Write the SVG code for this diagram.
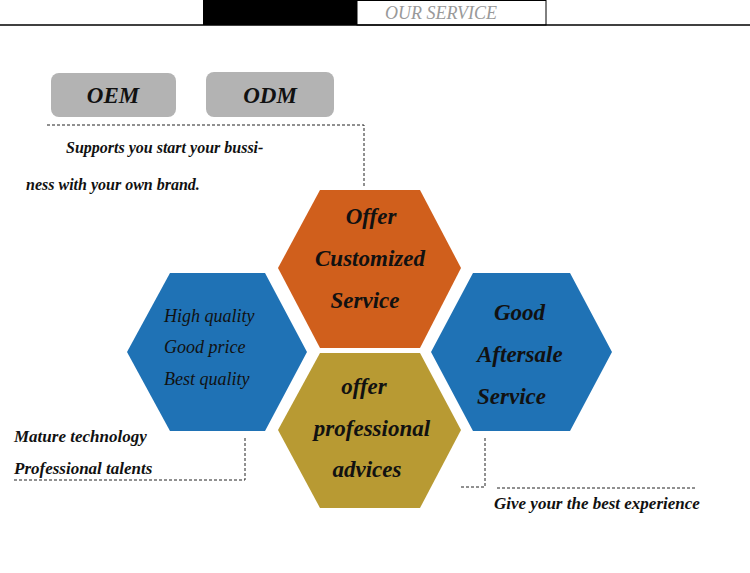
<svg xmlns="http://www.w3.org/2000/svg" width="750" height="573" viewBox="0 0 750 573">
<style>
.t{font-family:"Liberation Serif",serif;font-style:italic;font-weight:bold;fill:#111}
.h{font-family:"Liberation Serif",serif;font-style:italic;fill:#111}
.d{fill:none;stroke:#222;stroke-width:1;stroke-dasharray:3,2}
.btn{fill:#b3b3b3}
</style>
<rect width="750" height="573" fill="#fff"/>
<g id="header">
<rect x="203" y="0" width="154" height="25" fill="#000"/>
<rect x="357" y="0.5" width="189" height="24.5" fill="#fff" stroke="#000"/>
<line x1="0" y1="25" x2="750" y2="25" stroke="#000" stroke-width="1.5"/>
<text x="441" y="19" text-anchor="middle" font-family="Liberation Serif,serif" font-style="italic" font-size="18" fill="#999">OUR SERVICE</text>
</g>
<g id="oem"><rect class="btn" x="51" y="73" width="125" height="44" rx="8"/><text class="t" x="113" y="103" font-size="23" text-anchor="middle">OEM</text></g>
<g id="odm"><rect class="btn" x="206" y="72" width="128" height="45" rx="8"/><text class="t" x="270" y="103" font-size="23" text-anchor="middle">ODM</text></g>
<g id="connectors">
<polyline class="d" points="47,125 364,125 364,187"/>
<polyline class="d" points="14,480 245,480 245,437"/>
<polyline class="d" points="461,487 485,487 485,437"/>
<line class="d" x1="497" y1="488" x2="697" y2="488"/>
</g>
<g id="note-top"><text class="t" x="66" y="153" font-size="16">Supports you start your bussi-</text><text class="t" x="26" y="190" font-size="16">ness with your own brand.</text></g>
<g id="hex-orange"><polygon points="278,268 320,190 420,190 461,268 420,348 320,348" fill="#d05f1c"/>
<text class="h" font-weight="bold" font-size="23" text-anchor="middle" x="370"><tspan x="371" y="224">Offer</tspan><tspan x="370" y="266">Customized</tspan><tspan x="365" y="308">Service</tspan></text></g>
<g id="hex-left"><polygon points="127,352 170,273 265,273 307,352 265,431 170,431" fill="#1f72b5"/>
<text class="h" font-size="18"><tspan x="164" y="322">High quality</tspan><tspan x="164" y="353">Good price</tspan><tspan x="164" y="385">Best quality</tspan></text></g>
<g id="hex-right"><polygon points="431,352 473,273 570,273 612,352 570,431 473,431" fill="#1f72b5"/>
<text class="h" font-size="23" font-weight="bold"><tspan x="494" y="320">Good</tspan><tspan x="477" y="362">Aftersale</tspan><tspan x="477" y="404">Service</tspan></text></g>
<g id="hex-gold"><polygon points="278,430 320,353 420,353 461,430 420,508 320,508" fill="#b89a33"/>
<text class="h" font-size="23" font-weight="bold" text-anchor="middle"><tspan x="364" y="394">offer</tspan><tspan x="372" y="436">professional</tspan><tspan x="367" y="477">advices</tspan></text></g>
<g id="note-left"><text class="h" font-size="17" font-weight="bold"><tspan x="14" y="442">Mature technology</tspan><tspan x="14" y="474">Professional talents</tspan></text></g>
<g id="note-right"><text class="h" font-size="17" font-weight="bold" x="494" y="509">Give your the best experience</text></g>
</svg>
